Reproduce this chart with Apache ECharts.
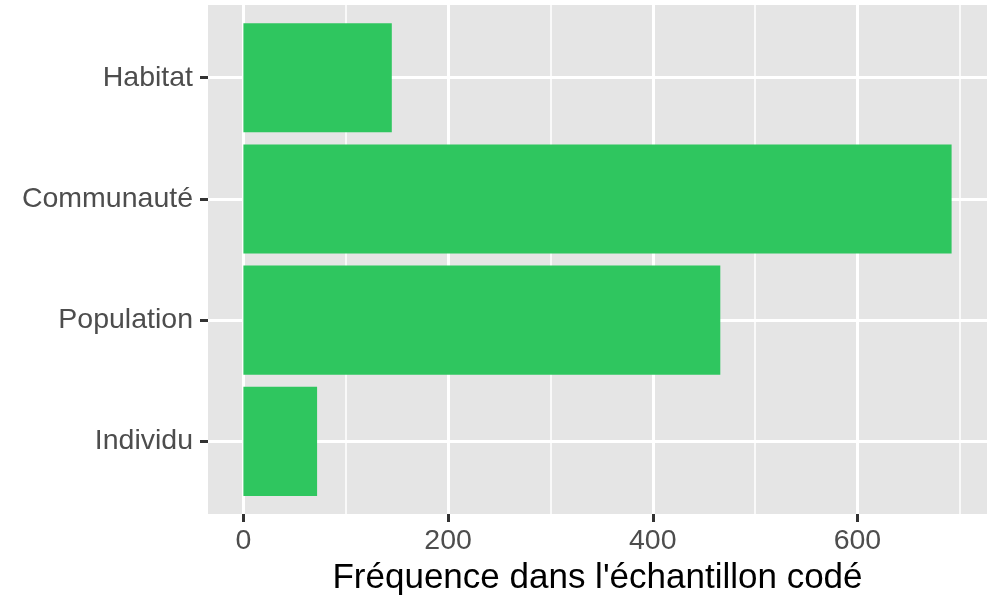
<!DOCTYPE html>
<html>
<head>
    <meta charset="utf-8">
    <script src="https://cdn.jsdelivr.net/npm/echarts@6/dist/echarts.min.js"></script>
</head>
<body style="margin: 0; background: #fff">
    <div id="main" style="width: 989px; height: 601px"></div>
    <script type="text/javascript">
        // categories from bottom to top (ggplot order)
        var categories = ['Individu', 'Population', 'Communauté', 'Habitat'];
        var counts = [72, 466, 692, 145];
        var majorTicks = [0, 200, 400, 600];
        var minorTicks = [100, 300, 500, 700];
        var xTitle = "Fréquence dans l'échantillon codé";

        var font = 'Liberation Sans, Arial, Helvetica, sans-serif';
        var barColor = '#2fc65f';

        window.onload = function () {
            var myChart = echarts.init(document.getElementById('main'));

            var data = [];
            for (var i = 0; i < categories.length; i++) {
                data.push([counts[i], i + 1]);
            }
            // ggplot default expansion: 5% of the range on each side
            var xmax = Math.max.apply(null, counts);
            var pad = xmax * 0.05;

            option = {
                animation: false,
                grid: {
                    left: 208,
                    right: 2,
                    top: 5,
                    bottom: 84,
                    show: true,
                    backgroundColor: '#e5e5e5',
                    borderWidth: 0
                },
                xAxis: [{
                    type: 'value',
                    min: -pad,
                    max: xmax + pad,
                    name: xTitle,
                    nameLocation: 'middle',
                    nameGap: 44,
                    nameTextStyle: { fontFamily: font, fontSize: 35, color: '#000' },
                    axisLine: { show: false, onZero: false },
                    axisTick: {
                        show: true,
                        customValues: majorTicks,
                        length: 8,
                        lineStyle: { color: '#333', width: 3 }
                    },
                    axisLabel: {
                        customValues: majorTicks,
                        margin: 13,
                        fontFamily: font,
                        fontSize: 28.5,
                        color: '#4d4d4d'
                    },
                    splitLine: { show: true, lineStyle: { color: '#fff', width: 3 } }
                }, {
                    type: 'value',
                    position: 'top',
                    min: -pad,
                    max: xmax + pad,
                    axisLine: { show: false, onZero: false },
                    axisTick: { show: false, customValues: minorTicks },
                    axisLabel: { show: false, customValues: minorTicks },
                    splitLine: { show: true, lineStyle: { color: '#fff', width: 1.5 } }
                }],
                yAxis: {
                    type: 'value',
                    min: 0.4,
                    max: categories.length + 0.6,
                    axisLine: { show: false, onZero: false },
                    axisTick: {
                        show: true,
                        customValues: [1, 2, 3, 4],
                        length: 8,
                        lineStyle: { color: '#333', width: 3 }
                    },
                    axisLabel: {
                        customValues: [1, 2, 3, 4],
                        margin: 15,
                        fontFamily: font,
                        fontSize: 28.5,
                        color: '#4d4d4d',
                        formatter: function (v) { return categories[Math.round(v) - 1]; }
                    },
                    splitLine: { show: true, lineStyle: { color: '#fff', width: 3 } }
                },
                series: [{
                    type: 'custom',
                    xAxisIndex: 0,
                    data: data,
                    encode: { x: 0, y: 1 },
                    renderItem: function (params, api) {
                        var v = api.value(0);
                        var c = api.value(1);
                        var p0 = api.coord([0, c + 0.45]);
                        var p1 = api.coord([v, c - 0.45]);
                        return {
                            type: 'rect',
                            shape: { x: p0[0], y: p0[1], width: p1[0] - p0[0], height: p1[1] - p0[1] },
                            style: { fill: barColor }
                        };
                    }
                }]
            };
            myChart.setOption(option);
        }
    </script>
</body>
</html>
